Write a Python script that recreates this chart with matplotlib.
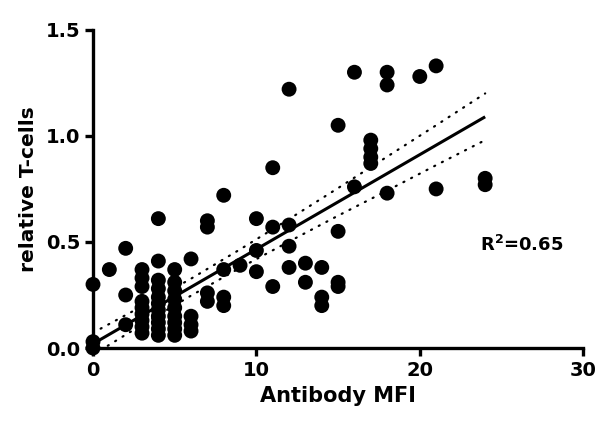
import numpy as np
import matplotlib
matplotlib.use("Agg")
import matplotlib.pyplot as plt

plt.rcParams['font.family'] = ['DejaVu Sans']
plt.rcParams['font.weight'] = 'bold'

# Data (Antibody MFI, relative T-cells)
mfi_groups = [0, 1, 2, 3, 4, 5, 6, 7, 8, 9, 10, 11, 12, 13, 14, 15, 16, 17, 18, 20, 21, 24]
tcell_groups = [
    [0.30, 0.03, 0.0],
    [0.37],
    [0.47, 0.25, 0.11],
    [0.37, 0.33, 0.29, 0.22, 0.19, 0.16, 0.13, 0.10, 0.07],
    [0.61, 0.41, 0.32, 0.28, 0.24, 0.21, 0.18, 0.15, 0.12, 0.09, 0.06],
    [0.37, 0.31, 0.27, 0.23, 0.19, 0.15, 0.12, 0.09, 0.06],
    [0.42, 0.15, 0.11, 0.08],
    [0.60, 0.57, 0.26, 0.22],
    [0.72, 0.37, 0.24, 0.20],
    [0.39],
    [0.61, 0.46, 0.36],
    [0.85, 0.57, 0.29],
    [1.22, 0.58, 0.48, 0.38],
    [0.40, 0.31],
    [0.38, 0.24, 0.20],
    [1.05, 0.55, 0.31, 0.29],
    [1.30, 0.76],
    [0.98, 0.94, 0.90, 0.87],
    [1.30, 1.24, 0.73],
    [1.28],
    [1.33, 0.75],
    [0.80, 0.77],
]

# Regression line and 95% confidence band
fit_x = [0, 24]
fit_y = [0.02, 1.09]
band_x = [0, 3, 6, 9, 12, 15, 18, 21, 24]
band_upper = [0.072, 0.197, 0.327, 0.465, 0.608, 0.754, 0.902, 1.050, 1.200]
band_lower = [-0.032, 0.110, 0.247, 0.378, 0.502, 0.624, 0.742, 0.862, 0.980]

r2_label = "R$^\\mathbf{2}$=0.65"
x_label = "Antibody MFI"
y_label = "relative T-cells"
x_ticks = [0, 10, 20, 30]
y_ticks = [0.0, 0.5, 1.0, 1.5]

x = np.concatenate([[m] * len(v) for m, v in zip(mfi_groups, tcell_groups)]).astype(float)
y = np.concatenate([np.array(v, dtype=float) for v in tcell_groups])

fig = plt.figure(figsize=(6.0, 4.26), dpi=100)
ax = fig.add_axes([0.155, 0.183, 0.817, 0.747])

ax.scatter(x, y, s=115, color='black', edgecolors='none', zorder=5, clip_on=False)
ax.plot(fit_x, fit_y, color='black', lw=2.2, zorder=4, solid_capstyle='butt')
dot_style = dict(color='black', lw=1.6, ls=(0, (0.5, 3.4)), dash_capstyle='round', zorder=4)
ax.plot(band_x, band_upper, **dot_style)
ax.plot(band_x, band_lower, **dot_style)

ax.set_xlim(0, 30)
ax.set_ylim(0, 1.5)
ax.set_xticks(x_ticks)
ax.set_yticks(y_ticks)
ax.set_yticklabels([f"{v:.1f}" for v in y_ticks])
for sp in ['top', 'right']:
    ax.spines[sp].set_visible(False)
for sp in ['left', 'bottom']:
    ax.spines[sp].set_linewidth(2.4)
ax.tick_params(axis='both', direction='out', length=6, width=2.4, labelsize=14, pad=3)
for lab in ax.get_xticklabels() + ax.get_yticklabels():
    lab.set_fontweight('bold')

ax.set_xlabel(x_label, fontsize=15, fontweight='bold', labelpad=5)
ax.set_ylabel(y_label, fontsize=14.5, fontweight='bold', labelpad=6)
ax.text(23.7, 0.485, r2_label, fontsize=13, fontweight='bold', va='center', ha='left')

fig.savefig("out.png", dpi=100)
